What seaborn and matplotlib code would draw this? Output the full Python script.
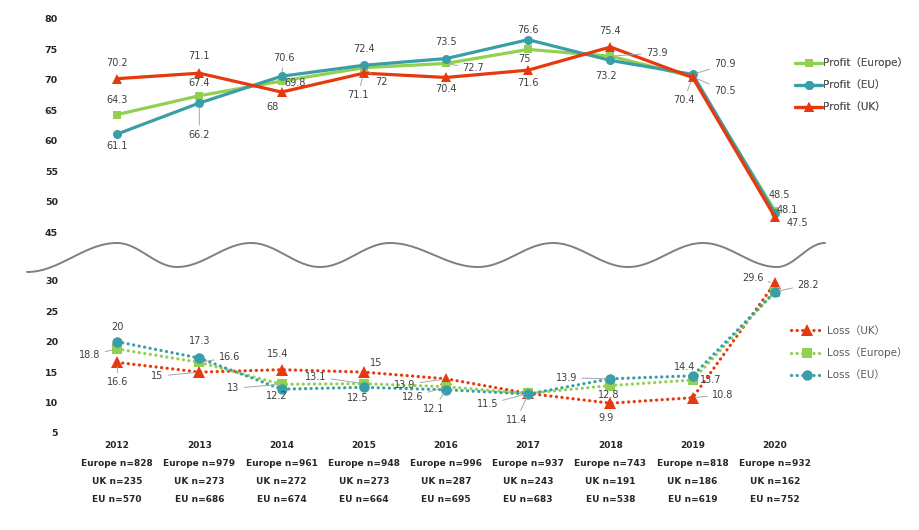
import numpy as np
import pandas as pd
import matplotlib
matplotlib.use("Agg")
import matplotlib.pyplot as plt
from matplotlib.lines import Line2D
import seaborn as sns

# Chart data
YEARS = ["2012", "2013", "2014", "2015", "2016", "2017", "2018", "2019", "2020"]
N_EUROPE = [828, 979, 961, 948, 996, 937, 743, 818, 932]
N_UK = [235, 273, 272, 273, 287, 243, 191, 186, 162]
N_EU = [570, 686, 674, 664, 695, 683, 538, 619, 752]

PROFIT_EUROPE = [64.3, 67.4, 69.8, 72.0, 72.7, 75.0, 73.9, 70.5, 48.5]
PROFIT_EU = [61.1, 66.2, 70.6, 72.4, 73.5, 76.6, 73.2, 70.9, 48.1]
PROFIT_UK = [70.2, 71.1, 68.0, 71.1, 70.4, 71.6, 75.4, 70.4, 47.5]
LOSS_UK = [16.6, 15.0, 15.4, 15.0, 13.9, 11.5, 9.9, 10.8, 29.6]
LOSS_EUROPE = [18.8, 16.6, 13.0, 13.1, 12.6, 11.5, 12.8, 13.7, 28.2]
LOSS_EU = [20.0, 17.3, 12.2, 12.5, 12.1, 11.4, 13.9, 14.4, 28.2]

LOWER_TICKS = [5, 10, 15, 20, 25, 30]
UPPER_TICKS = [45, 50, 55, 60, 65, 70, 75, 80]

# The upper (profit) band is pulled down by this amount to make the axis break
BREAK_SHIFT = 7

GREEN = "#92D050"
TEAL = "#3A9EA8"
RED = "#E8380D"
LABEL_COLOR = "#404040"

# Data label offsets in pixels (dx, dy), None = no label; True = leader line
LABEL_OFFSETS = {
    "Profit（Europe）": [(0, 15), (0, 13), (14, -2), (18, -14, True), (27, -5, True),
                        (-4, -10), (46, 3, True), (32, -14, True), (4, 16)],
    "Profit（EU）": [(0, -12), (0, -32, True), (2, 18, True), (0, 16), (0, 17),
                    (0, 10), (-4, -16), (32, 10, True), (12, 3)],
    "Profit（UK）": [(0, 16), (0, 17), (-9, -15), (-6, -22, True), (0, -12),
                    (0, -13), (0, 16), (-9, -23, True), (22, -6)],
    "Loss（UK）": [(1, -20, True), (-42, -4, True), (-4, 16), (12, 9), (-41, -6, True),
                  None, (-4, -15), (30, 3, True), (-22, 5, True)],
    "Loss（Europe）": [(-27, -6, True), (30, 5, True), (-48, -4, True), (-48, 7, True),
                      (-33, -10, True), (-41, -11, True), (-2, -9), (18, 0), None],
    "Loss（EU）": [(0, 15), (0, 17), (-5, -7), (-6, -11), (-12, -19, True),
                  (-12, -26, True), (-44, 1, True), (-8, 9), (33, 7, True)],
}


def _build_frame():
    series = {
        "Profit（Europe）": (PROFIT_EUROPE, BREAK_SHIFT),
        "Profit（EU）": (PROFIT_EU, BREAK_SHIFT),
        "Profit（UK）": (PROFIT_UK, BREAK_SHIFT),
        "Loss（UK）": (LOSS_UK, 0),
        "Loss（Europe）": (LOSS_EUROPE, 0),
        "Loss（EU）": (LOSS_EU, 0),
    }
    rows = []
    for name, (values, shift) in series.items():
        for i, v in enumerate(values):
            rows.append({"series": name, "x": i, "value": v, "y": v - shift})
    return pd.DataFrame(rows)


def _draw_wave(fig):
    # Wavy break line, control points in figure pixels (peaks / troughs)
    px = [27, 117, 177, 251, 320, 390, 478, 553, 628, 703, 777, 825]
    py = [272, 243, 267, 243, 267, 243, 267, 243, 267, 243, 267, 243]
    xs, ys = [], []
    for k in range(len(px) - 1):
        t = np.linspace(0, 1, 30)
        w = (1 - np.cos(np.pi * t)) / 2
        xs.extend(px[k] + (px[k + 1] - px[k]) * t)
        ys.extend(py[k] + (py[k + 1] - py[k]) * w)
    W, H = fig.get_size_inches() * fig.dpi
    fig.add_artist(Line2D(np.array(xs) / W, 1 - np.array(ys) / H,
                          transform=fig.transFigure, color="#7F7F7F", lw=1.4))


def main():
    sns.set_theme(style="white")
    plt.rcParams["font.family"] = ["DejaVu Sans", "Noto Sans CJK JP"]

    df = _build_frame()

    fig = plt.figure(figsize=(9.2, 5.3), dpi=100)
    ax = fig.add_axes([76 / 920, 1 - 433 / 530, 740 / 920, 414 / 530])

    dotted = (0, (0.05, 1.7))
    styles = [
        ("Profit（Europe）", GREEN, "s", 6.0, "-"),
        ("Profit（EU）", TEAL, "o", 6.5, "-"),
        ("Profit（UK）", RED, "^", 6.5, "-"),
        ("Loss（UK）", RED, "^", 8.0, dotted),
        ("Loss（Europe）", GREEN, "s", 7.0, dotted),
        ("Loss（EU）", TEAL, "o", 7.5, dotted),
    ]
    handles = {}
    for name, color, marker, ms, ls in styles:
        sub = df[df["series"] == name]
        sns.lineplot(data=sub, x="x", y="y", ax=ax, color=color, marker=marker,
                     markersize=ms, markeredgewidth=0, linewidth=2.3,
                     linestyle=ls, dash_capstyle="round", legend=False,
                     errorbar=None)
        handles[name] = ax.lines[-1]

        # Data labels
        for (_, row), off in zip(sub.iterrows(), LABEL_OFFSETS[name]):
            if off is None:
                continue
            dx, dy = off[0], off[1]
            leader = len(off) > 2
            ax.annotate(
                f"{row['value']:g}", (row["x"], row["y"]),
                xytext=(dx, dy), textcoords="offset pixels",
                ha="center", va="center", fontsize=7, color=LABEL_COLOR,
                arrowprops=dict(arrowstyle="-", color="#A6A6A6", lw=0.7,
                                shrinkA=1, shrinkB=3) if leader else None,
            )

    # Axes, ticks and the broken y scale
    ax.set_xlim(-0.5, 8.5)
    ax.set_ylim(5, 80 - BREAK_SHIFT)
    xlabels = [f"{y}\nEurope n={e}\nUK n={u}\nEU n={n}"
               for y, e, u, n in zip(YEARS, N_EUROPE, N_UK, N_EU)]
    ax.set_xticks(range(len(YEARS)), labels=xlabels)
    yticks = LOWER_TICKS + [t - BREAK_SHIFT for t in UPPER_TICKS]
    ax.set_yticks(yticks, labels=[str(t) for t in LOWER_TICKS + UPPER_TICKS])
    ax.tick_params(axis="x", length=0, pad=6, labelsize=6.5)
    ax.tick_params(axis="y", length=0, pad=13, labelsize=6.8)
    for lab in ax.get_xticklabels():
        lab.set_fontweight("bold")
        lab.set_linespacing(2.25)
        lab.set_color("#262626")
    for lab in ax.get_yticklabels():
        lab.set_fontweight("bold")
        lab.set_color("#262626")
    ax.set_xlabel("")
    ax.set_ylabel("")
    sns.despine(ax=ax, left=True, bottom=True)

    # Two legends on the right
    profit_names = ["Profit（Europe）", "Profit（EU）", "Profit（UK）"]
    loss_names = ["Loss（UK）", "Loss（Europe）", "Loss（EU）"]
    leg1 = fig.legend([handles[n] for n in profit_names], profit_names,
                      loc="center left", bbox_to_anchor=(795 / 920, 1 - 85 / 530),
                      frameon=False, fontsize=7.5, labelspacing=1.15,
                      handlelength=2.6, handletextpad=0.1, borderpad=0,
                      borderaxespad=0, labelcolor="#595959")
    fig.legend([handles[n] for n in loss_names], loss_names,
               loc="center left", bbox_to_anchor=(791 / 920, 1 - 353 / 530),
               frameon=False, fontsize=7.5, labelspacing=1.15,
               handlelength=3.0, handletextpad=0.5, borderpad=0,
               borderaxespad=0, labelcolor="#595959")
    fig.add_artist(leg1)

    _draw_wave(fig)

    fig.savefig("out.png", dpi=100)


if __name__ == "__main__":
    main()
